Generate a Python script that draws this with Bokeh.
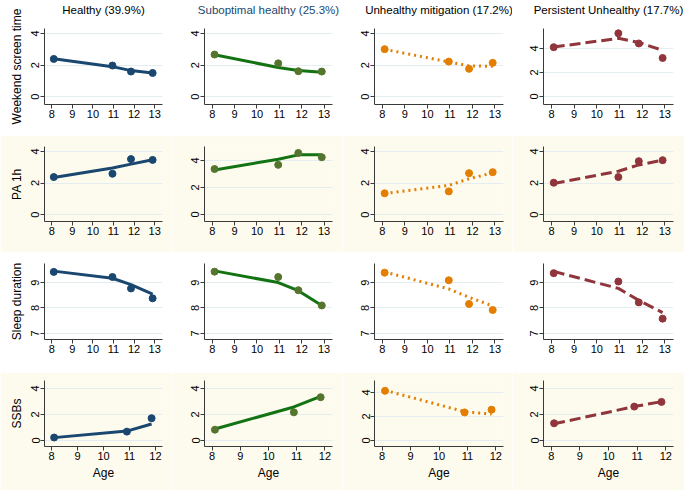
from bokeh.plotting import figure
from bokeh.layouts import column, row
from bokeh.models import FixedTicker, Range1d, LinearAxis
from bokeh.embed import file_html
from bokeh.resources import INLINE

groups = ["Healthy (39.9%)", "Suboptimal healthy (25.3%)",
          "Unhealthy mitigation (17.2%)", "Persistent Unhealthy (17.7%)"]
outcomes = ["Weekend screen time", "PA 1h", "Sleep duration", "SSBs"]

ages_main = [8.1, 10.95, 11.85, 12.9]
ages_ssb = [8.1, 10.9, 11.85]

# observed means (points) and fitted trajectories (lines), per group
screen_obs = [[2.39, 1.97, 1.59, 1.50], [2.67, 2.11, 1.61, 1.59],
              [3.01, 2.22, 1.76, 2.14], [4.11, 5.27, 4.42, 3.21]]
screen_fit = [[2.40, 1.90, 1.65, 1.50], [2.65, 1.85, 1.65, 1.55],
              [3.00, 2.20, 1.95, 1.92], [4.12, 4.85, 4.50, 3.85]]
pa_obs = [[2.38, 2.59, 3.52, 3.47], [3.37, 3.68, 4.56, 4.24],
          [1.35, 1.47, 2.63, 2.69], [2.02, 2.38, 3.39, 3.45]]
pa_fit = [[2.35, 2.95, 3.20, 3.48], [3.30, 4.10, 4.42, 4.43],
          [1.33, 1.85, 2.27, 2.65], [1.97, 2.75, 3.15, 3.45]]
sleep_obs = [[9.42, 9.22, 8.77, 8.38], [9.43, 9.22, 8.70, 8.10],
             [9.39, 9.09, 8.16, 7.92], [9.37, 9.04, 8.22, 7.58]]
sleep_fit = [[9.45, 9.17, 8.92, 8.55], [9.46, 9.00, 8.68, 8.10],
             [9.42, 8.75, 8.42, 8.08], [9.44, 8.77, 8.30, 7.82]]
ssb_obs = [[0.23, 0.68, 1.71], [0.83, 2.16, 3.32],
           [4.14, 2.34, 2.57], [1.32, 2.60, 2.96]]
ssb_fit = [[0.22, 0.72, 1.27], [0.88, 2.57, 3.38],
           [4.18, 2.40, 2.20], [1.28, 2.60, 2.98]]

y_ticks = [[0, 2, 4], [0, 2, 4], [7, 8, 9], [0, 2, 4]]
x_ticks_main = [8, 9, 10, 11, 12, 13]
x_ticks_ssb = [8, 9, 10, 11, 12]

obs = [screen_obs, pa_obs, sleep_obs, ssb_obs]
fit = [screen_fit, pa_fit, sleep_fit, ssb_fit]
ages = [ages_main, ages_main, ages_main, ages_ssb]
xticks = [x_ticks_main, x_ticks_main, x_ticks_main, x_ticks_ssb]

# ---- styling / layout ----
FONT = "Liberation Sans"
line_colors = ["#1a476f", "#137313", "#e37e00", "#90353b"]
marker_colors = ["#1a476f", "#55752f", "#e37e00", "#90353b"]
dashes = ["solid", "solid", "2 4", "11 5"]
title_colors = ["#000000", "#1a476f", "#000000", "#000000"]
band = ["#ffffff", "#fdfaee", "#ffffff", "#fdfaee"]

x_ranges = [(7.65, 13.38)] * 3 + [(7.73, 12.27)]
y_ranges = [
    [(-0.5, 4.32), (-0.5, 4.32), (-0.5, 4.32), (-0.67, 5.67)],
    [(-0.44, 4.32), (-0.52, 5.04), (-0.44, 4.32), (-0.44, 4.32)],
    [(6.76, 9.75)] * 4,
    [(-0.46, 4.6), (-0.46, 4.6), (-0.5, 5.0), (-0.46, 4.6)],
]

col_left = [44, 32, 32, 31]
col_frame = [118, 128, 129, 130]
col_right = [10, 10, 9, 11]
row_top = [28, 11, 11, 8]
row_frame = [76, 75, 76, 66]
row_bottom = [31, 31, 33, 44]

rows = []
for r in range(4):
    figs = []
    for c in range(4):
        p = figure(
            frame_width=col_frame[c], frame_height=row_frame[r],
            min_border_left=col_left[c], min_border_right=col_right[c],
            min_border_top=row_top[r], min_border_bottom=row_bottom[r],
            x_range=Range1d(*x_ranges[r]), y_range=Range1d(*y_ranges[r][c]),
            output_backend="svg", toolbar_location=None,
            background_fill_color=band[r], border_fill_color=band[r],
        )
        p.outline_line_color = None
        xa = p.below[0]
        ya = p.left[0]
        if r == 0:
            top = LinearAxis(ticker=FixedTicker(ticks=[]), axis_label=groups[c])
            top.axis_line_color = None
            top.major_tick_line_color = None
            top.minor_tick_line_color = None
            top.major_tick_out = 0
            top.major_tick_in = 0
            top.major_label_standoff = 0
            top.major_label_text_font_size = "1px"
            top.axis_label_standoff = 13
            top.axis_label_text_font = FONT
            top.axis_label_text_font_size = "11.5px"
            top.axis_label_text_font_style = "normal"
            top.axis_label_text_color = title_colors[c]
            p.add_layout(top, "above")
        p.xgrid.visible = False
        p.ygrid.ticker = FixedTicker(ticks=y_ticks[r])
        p.ygrid.grid_line_color = "#e4edef"
        p.ygrid.grid_line_width = 1
        xa.ticker = FixedTicker(ticks=xticks[r])
        ya.ticker = FixedTicker(ticks=y_ticks[r])
        for ax in (xa, ya):
            ax.axis_line_color = "#3a3a3a"
            ax.major_tick_line_color = "#3a3a3a"
            ax.major_tick_out = 4
            ax.major_tick_in = 0
            ax.minor_tick_line_color = None
            ax.major_label_text_font = FONT
            ax.major_label_text_font_size = "11px"
            ax.major_label_text_color = "#000000"
            ax.major_label_standoff = 1
            ax.axis_label_text_font = FONT
            ax.axis_label_text_font_size = "12px"
            ax.axis_label_text_font_style = "normal"
            ax.axis_label_text_color = "#000000"
        ya.major_label_orientation = "vertical"
        if c == 0:
            ya.axis_label = outcomes[r]
            ya.axis_label_standoff = 5
        if r == 3:
            xa.axis_label = "Age"
            xa.axis_label_standoff = 3
        p.line(ages[r], fit[r][c], line_width=3, line_color=line_colors[c],
               line_dash=dashes[c])
        p.scatter(ages[r], obs[r][c], size=7, color=marker_colors[c])
        figs.append(p)
    rows.append(row(*figs))

layout = column(*rows)
open("out.html", "w").write(file_html(layout, INLINE))
